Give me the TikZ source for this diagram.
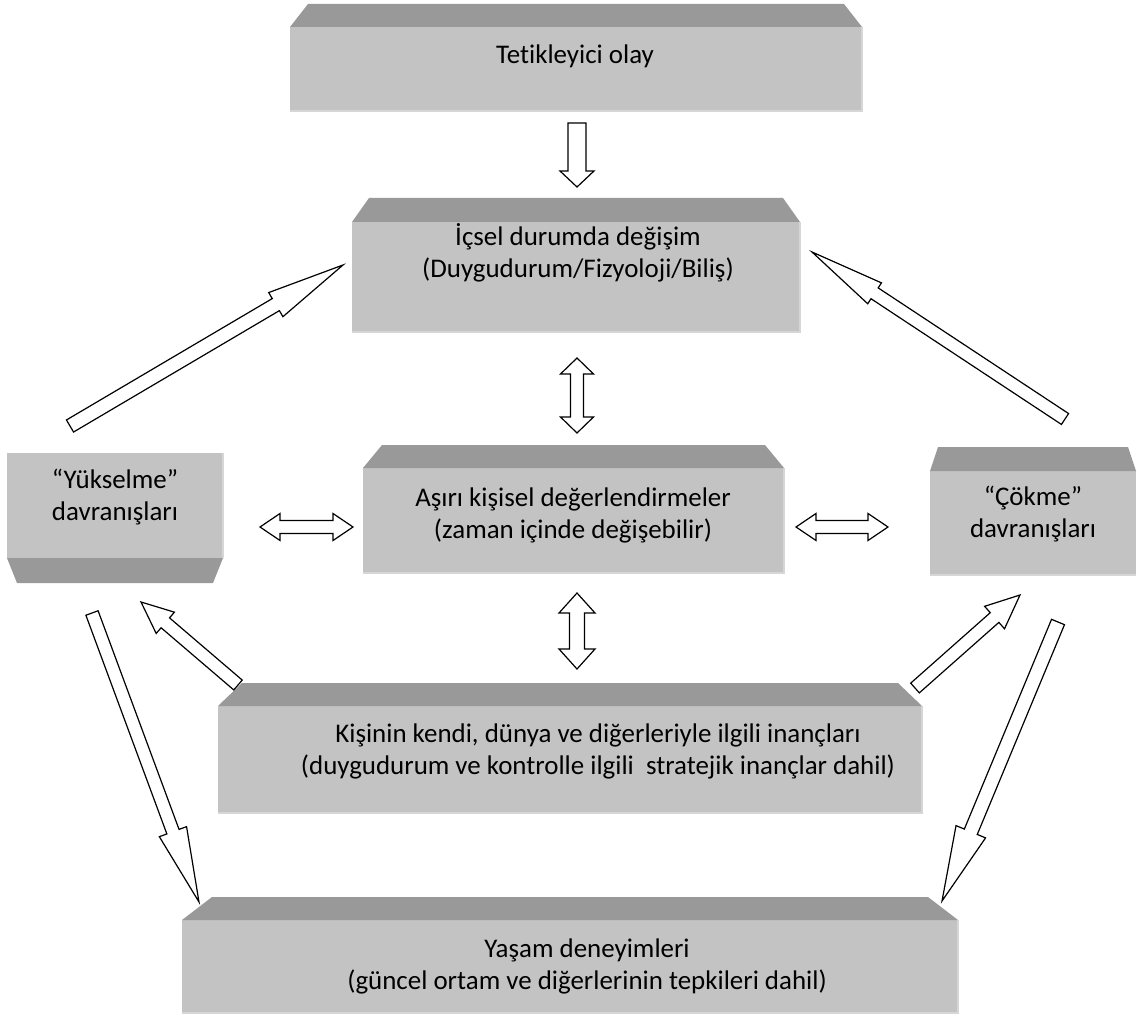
\documentclass[tikz,border=0pt]{standalone}
\usepackage{fontspec}
\setmainfont{Carlito}[Ligatures={NoCommon}]
\usetikzlibrary{calc}
\definecolor{facegray}{RGB}{195,195,195}
\definecolor{bevelgray}{RGB}{153,153,153}
\definecolor{rimgray}{RGB}{214,214,214}

% block arrow: tail, tip, shaft half width, head half width, head length (px)
\newcommand{\onearrow}[5]{%
  \coordinate (hb) at ($(#2)!#5*0.75pt!(#1)$);
  \draw[blockarr] ($(#1)!#3*0.75pt!90:(#2)$) -- ($(hb)!#3*0.75pt!90:(#2)$) -- ($(hb)!#4*0.75pt!90:(#2)$) -- (#2)
    -- ($(hb)!#4*0.75pt!-90:(#2)$) -- ($(hb)!#3*0.75pt!-90:(#2)$) -- ($(#1)!#3*0.75pt!-90:(#2)$) -- cycle;
}
% double block arrow: end, end, shaft half width, head half width, head length (px)
\newcommand{\twoarrow}[5]{%
  \coordinate (hba) at ($(#1)!#5*0.75pt!(#2)$);
  \coordinate (hbb) at ($(#2)!#5*0.75pt!(#1)$);
  \draw[blockarr] (#1) -- ($(hba)!#4*0.75pt!90:(#2)$) -- ($(hba)!#3*0.75pt!90:(#2)$) -- ($(hbb)!#3*0.75pt!-90:(#1)$)
    -- ($(hbb)!#4*0.75pt!-90:(#1)$) -- (#2) -- ($(hbb)!#4*0.75pt!90:(#1)$) -- ($(hbb)!#3*0.75pt!90:(#1)$)
    -- ($(hba)!#3*0.75pt!-90:(#2)$) -- ($(hba)!#4*0.75pt!-90:(#2)$) -- cycle;
}

\begin{document}
\begin{tikzpicture}[x=0.75pt,y=0.75pt,yscale=-1,xscale=1,
  face/.style={fill=facegray},
  bevel/.style={fill=bevelgray},
  rim/.style={draw=rimgray,line width=1.5pt},
  blockarr/.style={draw=black,fill=white,line width=0.9pt,line join=miter},
  txt/.style={align=center,inner sep=0pt,font=\fontsize{20.2}{24}\selectfont}]
\useasboundingbox (0,0) rectangle (1137,1019);

%Shape: Box [Tetikleyici olay]
\fill[face] (290,27) rectangle (862,111);
\draw[rim] (290,111) -- (862,111) -- (862,27);
\fill[bevel] (290,27) -- (308,4) -- (844,4) -- (862,27) -- cycle;
%Shape: Box [Icsel durum]
\fill[face] (352,222) rectangle (800,332);
\draw[rim] (352,332) -- (800,332) -- (800,222);
\fill[bevel] (352,222) -- (369,198) -- (783,198) -- (800,222) -- cycle;
%Shape: Box [Asiri degerlendirme]
\fill[face] (363,468) rectangle (784,573);
\draw[rim] (363,573) -- (784,573) -- (784,468);
\fill[bevel] (363,468) -- (382,445) -- (765,445) -- (784,468) -- cycle;
%Shape: Box [Yukselme]
\fill[face] (7,453) rectangle (223,558);
\draw[rim] (223,558) -- (223,453);
\fill[bevel] (7,558) -- (17,583) -- (213,583) -- (223,558) -- cycle;
%Shape: Box [Cokme]
\fill[face] (930,471) rectangle (1136,575);
\draw[rim] (930,575) -- (1136,575);
\fill[bevel] (930,471) -- (938,447) -- (1128,447) -- (1136,471) -- cycle;
%Shape: Box [Inanclar]
\fill[face] (218,706) rectangle (922,813);
\draw[rim] (218,813) -- (922,813) -- (922,706);
\fill[bevel] (218,706) -- (242,683) -- (898,683) -- (922,706) -- cycle;
%Shape: Box [Yasam]
\fill[face] (182,920) rectangle (958,1013);
\draw[rim] (182,1013) -- (958,1013) -- (958,920);
\fill[bevel] (182,920) -- (212,897) -- (928,897) -- (958,920) -- cycle;

% Text Node
\node[txt] (tet) at (575,56) {Tetikleyici olay};
% Text Node
\node[txt] (ics) at (578,253) {İçsel durumda değişim\\(Duygudurum/Fizyoloji/Biliş)};
% Text Node
\node[txt] (asiri) at (573,515) {Aşırı kişisel değerlendirmeler\\(zaman içinde değişebilir)};
% Text Node
\node[txt] (yuk) at (115,497) {“Yükselme”\\davranışları};
% Text Node
\node[txt] (cok) at (1033,514) {“Çökme”\\davranışları};
% Text Node
\node[txt] (inanc) at (598,751) {Kişinin kendi, dünya ve diğerleriyle ilgili inançları\\(duygudurum ve kontrolle ilgili\ \ stratejik inançlar dahil)};
% Text Node
\node[txt] (yasam) at (587,966) {Yaşam deneyimleri\\(güncel ortam ve diğerlerinin tepkileri dahil)};

% arrow ends
\coordinate (tetout) at (577,123);   \coordinate (icsin) at (577,187);
\coordinate (icsdown) at (577,358);  \coordinate (asiriup) at (577,433);
\coordinate (asiridown) at (577,593); \coordinate (inancup) at (577,669);
\coordinate (yukright) at (260,527); \coordinate (asirileft) at (353,527);
\coordinate (asiriright) at (796,527); \coordinate (cokleft) at (888,527);
\coordinate (yukup) at (70,426);     \coordinate (icsleft) at (343,265);
\coordinate (cokup) at (1065,419);   \coordinate (icsright) at (812,252);
\coordinate (inancnw) at (238,685);  \coordinate (yukse) at (141,602);
\coordinate (inancne) at (915,688);  \coordinate (cokse) at (1020,595);
\coordinate (yukdown) at (92,613);   \coordinate (yasamnw) at (199,902);
\coordinate (cokdown) at (1058,622); \coordinate (yasamne) at (942,901);

%Block Arrows
\onearrow{tetout}{icsin}{9}{17}{16}
\twoarrow{icsdown}{asiriup}{6.5}{16.5}{16}
\twoarrow{asiridown}{inancup}{7.5}{18}{20}
\twoarrow{yukright}{asirileft}{6.5}{13.5}{20}
\twoarrow{asiriright}{cokleft}{6.5}{13.5}{20}
\onearrow{yukup}{icsleft}{7}{14}{78}
\onearrow{cokup}{icsright}{6.5}{12.5}{75}
\onearrow{inancnw}{yukse}{6.5}{14}{32}
\onearrow{inancne}{cokse}{6.5}{15}{34}
\onearrow{yukdown}{yasamnw}{6.5}{14.5}{75}
\onearrow{cokdown}{yasamne}{7}{16}{75}

\end{tikzpicture}
\end{document}
